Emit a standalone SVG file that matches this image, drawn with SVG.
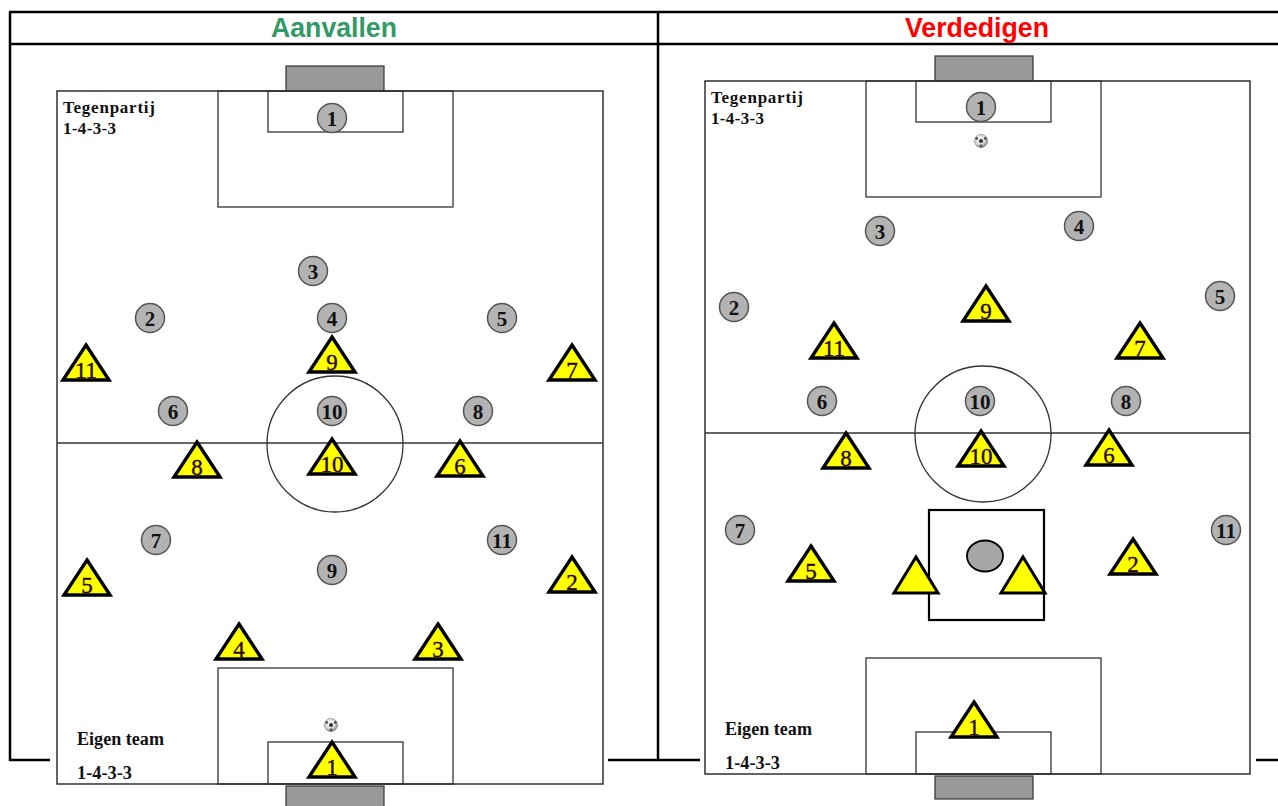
<svg xmlns="http://www.w3.org/2000/svg" xmlns:xlink="http://www.w3.org/1999/xlink" width="1278" height="806" viewBox="0 0 1278 806">
  <style>
    .tbl { stroke: #000; stroke-width: 2.5; fill: none; }
    .line { stroke: #333; stroke-width: 1.3; fill: none; }
    .pitch { stroke: #222; stroke-width: 1.4; fill: #fff; }
    .goal { fill: #999; stroke: #333; stroke-width: 1.2; }
    .opp circle { fill: #b3b3b3; stroke: #555; stroke-width: 1.5; }
    .num { font-family: "Liberation Serif", serif; font-weight: bold; font-size: 21px; text-anchor: middle; fill: #111; }
    .tnum { font-family: "Liberation Serif", serif; font-size: 23px; text-anchor: middle; fill: #2a0808; stroke: #2a0808; stroke-width: 0.4; }
    .tri { fill: #ffff00; stroke: #000; stroke-width: 3.4; stroke-linejoin: miter; }
    .lbl { font-family: "Liberation Serif", serif; font-weight: bold; font-size: 17px; fill: #111; }
    .lbl2 { font-family: "Liberation Serif", serif; font-weight: bold; font-size: 18px; fill: #111; }
    .head { font-family: "Liberation Sans", Arial, sans-serif; font-weight: bold; font-size: 27px; text-anchor: middle; }
  </style>
  <defs>
    <polygon id="triShape" points="0,-18 23,17 -23,17"/>
    <radialGradient id="ballGrad" cx="0.4" cy="0.35" r="0.7">
      <stop offset="0" stop-color="#ffffff"/>
      <stop offset="0.6" stop-color="#d8d8d8"/>
      <stop offset="1" stop-color="#777"/>
    </radialGradient>
    <g id="ball">
      <circle r="6.5" fill="url(#ballGrad)" stroke="#666" stroke-width="0.6"/>
      <circle r="2" fill="#333"/>
      <circle cx="-4.3" cy="-2.5" r="1.4" fill="#555"/>
      <circle cx="4.3" cy="-2.5" r="1.4" fill="#555"/>
      <circle cx="0" cy="5" r="1.4" fill="#555"/>
    </g>
  </defs>

  <rect width="1278" height="806" fill="#fff"/>

  <!-- table frame -->
  <g id="table">
    <line class="tbl" x1="9" y1="12" x2="1278" y2="12"/>
    <line class="tbl" x1="9" y1="44" x2="1278" y2="44"/>
    <line class="tbl" x1="10" y1="12" x2="10" y2="761"/>
    <line class="tbl" x1="658" y1="12" x2="658" y2="761"/>
    <line class="tbl" x1="9" y1="760" x2="50" y2="760"/>
    <line class="tbl" x1="608" y1="760" x2="700" y2="760"/>
    <line class="tbl" x1="1256" y1="760" x2="1278" y2="760"/>
    <text class="head" x="334" y="37" fill="#339966" textLength="126" lengthAdjust="spacingAndGlyphs">Aanvallen</text>
    <text class="head" x="977" y="37" fill="#ff0000" textLength="144" lengthAdjust="spacingAndGlyphs">Verdedigen</text>
  </g>

  <!-- left pitch: attacking -->
  <g id="pitch-left">
    <rect class="goal" x="286" y="66" width="98" height="25"/>
    <rect class="goal" x="286" y="786" width="98" height="22"/>
    <rect class="pitch" x="57" y="91" width="546" height="693"/>
    <rect class="line" x="218" y="91" width="235" height="116"/>
    <rect class="line" x="268" y="91" width="135" height="41"/>
    <rect class="line" x="218" y="668" width="235" height="116"/>
    <rect class="line" x="268" y="742" width="135" height="42"/>
    <line class="line" x1="57" y1="443" x2="603" y2="443"/>
    <circle class="line" cx="335" cy="444" r="68"/>
    <text class="lbl" x="63" y="113" textLength="92" lengthAdjust="spacing">Tegenpartij</text>
    <text class="lbl" x="63" y="134" textLength="53" lengthAdjust="spacing">1-4-3-3</text>
    <text class="lbl2" x="77" y="745" textLength="87" lengthAdjust="spacingAndGlyphs">Eigen team</text>
    <text class="lbl2" x="77" y="779" textLength="55" lengthAdjust="spacingAndGlyphs">1-4-3-3</text>
    <use href="#ball" x="331" y="725"/>
  </g>

  <!-- left pitch: opponents -->
  <g id="L-opp-1" class="opp"><circle cx="332" cy="118" r="14.5"/><text class="num" x="332" y="126">1</text></g>
  <g id="L-opp-3" class="opp"><circle cx="313" cy="271" r="14.5"/><text class="num" x="313" y="279">3</text></g>
  <g id="L-opp-2" class="opp"><circle cx="150" cy="318" r="14.5"/><text class="num" x="150" y="326">2</text></g>
  <g id="L-opp-4" class="opp"><circle cx="332" cy="318" r="14.5"/><text class="num" x="332" y="326">4</text></g>
  <g id="L-opp-5" class="opp"><circle cx="502" cy="318" r="14.5"/><text class="num" x="502" y="326">5</text></g>
  <g id="L-opp-6" class="opp"><circle cx="173" cy="411" r="14.5"/><text class="num" x="173" y="419">6</text></g>
  <g id="L-opp-10" class="opp"><circle cx="332" cy="411" r="14.5"/><text class="num" x="332" y="419">10</text></g>
  <g id="L-opp-8" class="opp"><circle cx="478" cy="411" r="14.5"/><text class="num" x="478" y="419">8</text></g>
  <g id="L-opp-7" class="opp"><circle cx="156" cy="540" r="14.5"/><text class="num" x="156" y="548">7</text></g>
  <g id="L-opp-11" class="opp"><circle cx="502" cy="540" r="14.5"/><text class="num" x="502" y="548">11</text></g>
  <g id="L-opp-9" class="opp"><circle cx="332" cy="570" r="14.5"/><text class="num" x="332" y="578">9</text></g>

  <!-- left pitch: own team -->
  <g id="L-own-11"><use href="#triShape" class="tri" x="86" y="363"/><text class="tnum" x="86" y="378">11</text></g>
  <g id="L-own-9"><use href="#triShape" class="tri" x="332" y="355"/><text class="tnum" x="332" y="370">9</text></g>
  <g id="L-own-7"><use href="#triShape" class="tri" x="572" y="363"/><text class="tnum" x="572" y="378">7</text></g>
  <g id="L-own-8"><use href="#triShape" class="tri" x="197" y="460"/><text class="tnum" x="197" y="475">8</text></g>
  <g id="L-own-10"><use href="#triShape" class="tri" x="332" y="457"/><text class="tnum" x="332" y="472">10</text></g>
  <g id="L-own-6"><use href="#triShape" class="tri" x="460" y="459"/><text class="tnum" x="460" y="474">6</text></g>
  <g id="L-own-5"><use href="#triShape" class="tri" x="87" y="578"/><text class="tnum" x="87" y="593">5</text></g>
  <g id="L-own-2"><use href="#triShape" class="tri" x="572" y="575"/><text class="tnum" x="572" y="590">2</text></g>
  <g id="L-own-4"><use href="#triShape" class="tri" x="239" y="642"/><text class="tnum" x="239" y="657">4</text></g>
  <g id="L-own-3"><use href="#triShape" class="tri" x="438" y="642"/><text class="tnum" x="438" y="657">3</text></g>
  <g id="L-own-1"><use href="#triShape" class="tri" x="332" y="760"/><text class="tnum" x="332" y="775">1</text></g>

  <!-- right pitch: defending -->
  <g id="pitch-right">
    <rect class="goal" x="935" y="56" width="98" height="25"/>
    <rect class="goal" x="935" y="776" width="98" height="23"/>
    <rect class="pitch" x="705" y="81" width="545" height="693"/>
    <rect class="line" x="866" y="81" width="235" height="116"/>
    <rect class="line" x="916" y="81" width="135" height="41"/>
    <rect class="line" x="866" y="658" width="235" height="116"/>
    <rect class="line" x="916" y="732" width="135" height="42"/>
    <line class="line" x1="705" y1="433" x2="1250" y2="433"/>
    <circle class="line" cx="983" cy="434" r="68"/>
    <text class="lbl" x="711" y="103" textLength="92" lengthAdjust="spacing">Tegenpartij</text>
    <text class="lbl" x="711" y="124" textLength="53" lengthAdjust="spacing">1-4-3-3</text>
    <text class="lbl2" x="725" y="735" textLength="87" lengthAdjust="spacingAndGlyphs">Eigen team</text>
    <text class="lbl2" x="725" y="769" textLength="55" lengthAdjust="spacingAndGlyphs">1-4-3-3</text>
    <use href="#ball" x="981" y="141"/>
  </g>

  <!-- pressing zone in front of the own goal -->
  <g id="press-zone">
    <rect x="929" y="510" width="115" height="110" fill="none" stroke="#000" stroke-width="2.2"/>
    <ellipse cx="985" cy="556" rx="18" ry="15.5" fill="#a6a6a6" stroke="#000" stroke-width="1.8"/>
    <polygon points="916,557 938,593 894,593" fill="#ffff00" stroke="#000" stroke-width="3"/>
    <polygon points="1023,557 1045,593 1001,593" fill="#ffff00" stroke="#000" stroke-width="3"/>
  </g>

  <!-- right pitch: opponents -->
  <g id="R-opp-1" class="opp"><circle cx="981" cy="107" r="14.5"/><text class="num" x="981" y="115">1</text></g>
  <g id="R-opp-3" class="opp"><circle cx="880" cy="231" r="14.5"/><text class="num" x="880" y="239">3</text></g>
  <g id="R-opp-4" class="opp"><circle cx="1079" cy="226" r="14.5"/><text class="num" x="1079" y="234">4</text></g>
  <g id="R-opp-2" class="opp"><circle cx="734" cy="307" r="14.5"/><text class="num" x="734" y="315">2</text></g>
  <g id="R-opp-5" class="opp"><circle cx="1220" cy="296" r="14.5"/><text class="num" x="1220" y="304">5</text></g>
  <g id="R-opp-6" class="opp"><circle cx="822" cy="401" r="14.5"/><text class="num" x="822" y="409">6</text></g>
  <g id="R-opp-10" class="opp"><circle cx="980" cy="401" r="14.5"/><text class="num" x="980" y="409">10</text></g>
  <g id="R-opp-8" class="opp"><circle cx="1126" cy="401" r="14.5"/><text class="num" x="1126" y="409">8</text></g>
  <g id="R-opp-7" class="opp"><circle cx="740" cy="530" r="14.5"/><text class="num" x="740" y="538">7</text></g>
  <g id="R-opp-11" class="opp"><circle cx="1226" cy="530" r="14.5"/><text class="num" x="1226" y="538">11</text></g>

  <!-- right pitch: own team -->
  <g id="R-own-9"><use href="#triShape" class="tri" x="986" y="304"/><text class="tnum" x="986" y="319">9</text></g>
  <g id="R-own-11"><use href="#triShape" class="tri" x="834" y="341"/><text class="tnum" x="834" y="356">11</text></g>
  <g id="R-own-7"><use href="#triShape" class="tri" x="1140" y="341"/><text class="tnum" x="1140" y="356">7</text></g>
  <g id="R-own-8"><use href="#triShape" class="tri" x="846" y="451"/><text class="tnum" x="846" y="466">8</text></g>
  <g id="R-own-10"><use href="#triShape" class="tri" x="981" y="449"/><text class="tnum" x="981" y="464">10</text></g>
  <g id="R-own-6"><use href="#triShape" class="tri" x="1109" y="448"/><text class="tnum" x="1109" y="463">6</text></g>
  <g id="R-own-5"><use href="#triShape" class="tri" x="811" y="564"/><text class="tnum" x="811" y="579">5</text></g>
  <g id="R-own-2"><use href="#triShape" class="tri" x="1133" y="557"/><text class="tnum" x="1133" y="572">2</text></g>
  <g id="R-own-1"><use href="#triShape" class="tri" x="974" y="720"/><text class="tnum" x="974" y="735">1</text></g>
</svg>
